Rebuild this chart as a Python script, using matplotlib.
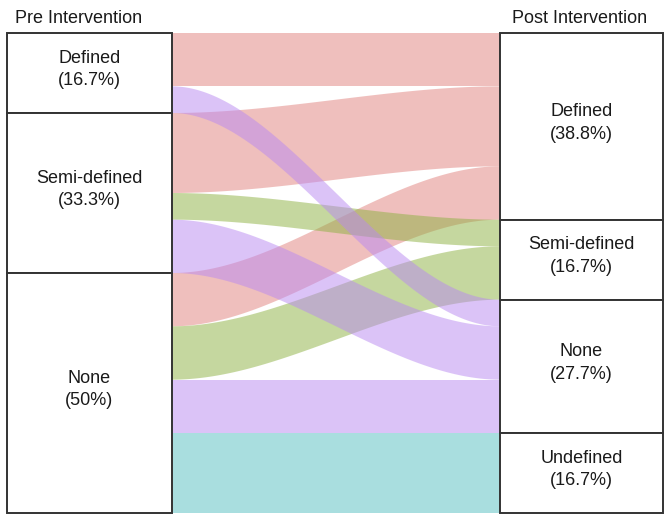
import numpy as np
import matplotlib
matplotlib.use("Agg")
import matplotlib.pyplot as plt
from matplotlib.patches import Rectangle, Polygon

# ---- data ----
pre_labels = ['Defined', 'Semi-defined', 'None']
pre_pct = ['16.7%', '33.3%', '50%']
post_labels = ['Defined', 'Semi-defined', 'None', 'Undefined']
post_pct = ['38.8%', '16.7%', '27.7%', '16.7%']
# counts[pre][post]
flow_defined = [2, 0, 1, 0]
flow_semi = [3, 1, 2, 0]
flow_none = [2, 2, 2, 3]
flows = np.array([flow_defined, flow_semi, flow_none], dtype=float)

flow_colors = ['#e1817d', '#8db141', '#b989f1', '#55bfc1']  # by destination
draw_order = [0, 1, 3, 2]

plt.rcParams['font.family'] = ['Liberation Sans', 'DejaVu Sans']

fig = plt.figure(figsize=(6.71, 5.24), dpi=100)
ax = fig.add_axes([0, 0, 1, 1])
ax.set_xlim(0, 671)
ax.set_ylim(524, 0)
ax.axis('off')

top, bottom = 33, 513
total = flows.sum()
scale = (bottom - top) / total
lx0, lx1 = 7, 172
rx0, rx1 = 500, 663

pre_tot = flows.sum(axis=1)
post_tot = flows.sum(axis=0)
pre_start = top + np.concatenate([[0], np.cumsum(pre_tot)[:-1]]) * scale
post_start = top + np.concatenate([[0], np.cumsum(post_tot)[:-1]]) * scale

# flow segment positions
left_pos = {}
for i in range(flows.shape[0]):
    y = pre_start[i]
    for j in range(flows.shape[1]):
        h = flows[i, j] * scale
        left_pos[(i, j)] = (y, y + h)
        y += h
right_pos = {}
for j in range(flows.shape[1]):
    y = post_start[j]
    for i in range(flows.shape[0]):
        h = flows[i, j] * scale
        right_pos[(i, j)] = (y, y + h)
        y += h

t = np.linspace(0, 1, 200)
s = 3 * t**2 - 2 * t**3
xs = lx1 + (rx0 - lx1) * t
for j in draw_order:
    for i in range(flows.shape[0]):
        if flows[i, j] == 0:
            continue
        (a0, a1) = left_pos[(i, j)]
        (b0, b1) = right_pos[(i, j)]
        upper = a0 + (b0 - a0) * s
        lower = a1 + (b1 - a1) * s
        pts = np.vstack([np.column_stack([xs, upper]),
                         np.column_stack([xs[::-1], lower[::-1]])])
        ax.add_patch(Polygon(pts, closed=True, facecolor=flow_colors[j],
                             alpha=0.5, edgecolor='none', zorder=1))

FS = 13
# boxes
def draw_box(x0, x1, y0, h, lab, pct):
    ax.add_patch(Rectangle((x0, y0), x1 - x0, h, facecolor='white',
                           edgecolor='#333333', lw=1.4, zorder=3))
    ax.text((x0 + x1) / 2, y0 + h / 2 - 3.5, f'{lab}\n({pct})', ha='center',
            va='center', fontsize=FS, linespacing=1.42, color='#1a1a1a', zorder=4)

for i, (lab, pct) in enumerate(zip(pre_labels, pre_pct)):
    draw_box(lx0, lx1, pre_start[i], pre_tot[i] * scale, lab, pct)
for j, (lab, pct) in enumerate(zip(post_labels, post_pct)):
    draw_box(rx0, rx1, post_start[j], post_tot[j] * scale, lab, pct)

ax.text(15, 23, 'Pre Intervention', ha='left', va='baseline', fontsize=FS, color='#1a1a1a')
ax.text(647, 23, 'Post Intervention', ha='right', va='baseline', fontsize=FS, color='#1a1a1a')

fig.savefig('out.png', dpi=100, facecolor='white')
